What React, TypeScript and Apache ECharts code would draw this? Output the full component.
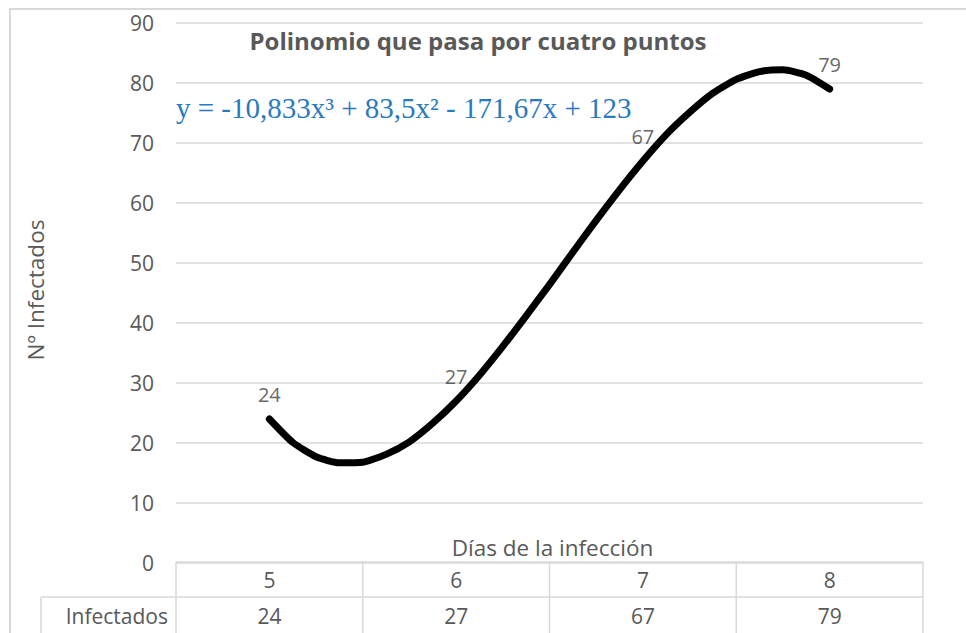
import React, { useEffect, useRef } from "react";
import * as echarts from "echarts";

const categories = ["5", "6", "7", "8"];
const infectados = [24, 27, 67, 79];
const seriesName = "Infectados";
// Trendline (day, value)
const trendDays = [
  5, 5.125, 5.25, 5.375, 5.5, 5.625, 5.75, 5.875, 6, 6.125, 6.25, 6.375, 6.5,
  6.625, 6.75, 6.875, 7, 7.125, 7.25, 7.375, 7.5, 7.625, 7.75, 7.875, 8,
];
const trendValues = [
  24, 20.1, 17.7, 16.7, 16.8, 18.1, 20.2, 23.3, 27, 31.3, 36.1, 41.2, 46.4,
  51.8, 57.1, 62.2, 67, 71.4, 75.1, 78.3, 80.6, 81.9, 82.2, 81.3, 79,
];
const yMin = 0;
const yMax = 90;
const yInterval = 10;
const titleText = "Polinomio que pasa por cuatro puntos";
const equationText = "y = -10,833x³ + 83,5x² - 171,67x + 123";
const xAxisTitle = "Días de la infección";
const yAxisTitle = "Nº Infectados";

const FONT = "'Open Sans', 'Noto Sans', sans-serif";
const GRID = { left: 176, top: 23, width: 747, height: 540 };

export default function App() {
  const ref = useRef<HTMLDivElement>(null);
  useEffect(() => {
    if (!ref.current) return;
    const chart = echarts.init(ref.current, null, { renderer: "svg" });
    const cellW = GRID.width / categories.length;
    const tableTop = GRID.top + GRID.height - 1;
    const rowH = 35;
    const border = "#d9d9d9";
    const textCol = "#595959";
    const graphics: any[] = [
      {
        type: "rect",
        shape: { x: 10, y: 9, width: 1200, height: 900 },
        style: { fill: "none", stroke: border, lineWidth: 2 },
        silent: true,
      },
      { type: "line", shape: { x1: GRID.left, y1: tableTop, x2: GRID.left + GRID.width, y2: tableTop }, style: { stroke: border, lineWidth: 1.5 } },
      { type: "line", shape: { x1: 41, y1: tableTop + rowH, x2: GRID.left + GRID.width, y2: tableTop + rowH }, style: { stroke: border, lineWidth: 1.5 } },
      { type: "line", shape: { x1: 41, y1: tableTop + rowH, x2: 41, y2: 700 }, style: { stroke: border, lineWidth: 1.5 } },
      {
        type: "text",
        x: 168,
        y: tableTop + rowH * 1.5 + 1,
        style: { text: seriesName, fill: textCol, font: `21px ${FONT}`, textAlign: "right", textVerticalAlign: "middle" },
      },
      {
        type: "text",
        x: GRID.left + GRID.width / 2 + 3,
        y: 547,
        style: { text: xAxisTitle, fill: textCol, font: `22.5px ${FONT}`, textAlign: "center", textVerticalAlign: "middle" },
      },
      {
        type: "text",
        x: 35,
        y: 290,
        rotation: Math.PI / 2,
        style: { text: yAxisTitle, fill: textCol, font: `22.5px ${FONT}`, textAlign: "center", textVerticalAlign: "middle" },
      },
      {
        type: "text",
        x: 478,
        y: 40,
        style: { text: titleText, fill: textCol, font: `bold 24px ${FONT}`, textAlign: "center", textVerticalAlign: "middle" },
      },
      {
        type: "text",
        x: 176,
        y: 108,
        style: { text: equationText, fill: "#2a7abf", font: `29px 'Liberation Serif', 'Times New Roman', serif`, textAlign: "left", textVerticalAlign: "middle" },
      },
    ];
    for (let i = 0; i <= categories.length; i++) {
      const x = GRID.left + i * cellW;
      graphics.push({ type: "line", shape: { x1: x, y1: tableTop, x2: x, y2: 700 }, style: { stroke: border, lineWidth: 1.5 } });
    }
    infectados.forEach((v, i) => {
      graphics.push({
        type: "text",
        x: GRID.left + (i + 0.5) * cellW,
        y: tableTop + rowH * 1.5 + 1,
        style: { text: String(v), fill: textCol, font: `21px ${FONT}`, textAlign: "center", textVerticalAlign: "middle" },
      });
    });

    chart.setOption({
      animation: false,
      backgroundColor: "#ffffff",
      grid: { ...GRID },
      xAxis: [
        {
          type: "category",
          data: categories,
          boundaryGap: true,
          axisLine: { show: false },
          axisTick: { show: false },
          axisLabel: { color: textCol, fontSize: 21, fontFamily: FONT, margin: 6 },
        },
        { type: "value", min: 4.5, max: 8.5, show: false },
      ],
      yAxis: {
        type: "value",
        min: yMin,
        max: yMax,
        interval: yInterval,
        axisLine: { show: false },
        axisTick: { show: false },
        axisLabel: { color: textCol, fontSize: 21, fontFamily: FONT, margin: 22 },
        splitLine: { lineStyle: { color: border, width: 1.5 } },
      },
      series: [
        {
          type: "line",
          xAxisIndex: 1,
          data: trendDays.map((d, i) => [d, trendValues[i]]),
          smooth: 0.2,
          symbol: "none",
          lineStyle: { color: "#000000", width: 7, cap: "round", join: "round" },
          silent: true,
        },
        {
          type: "scatter",
          name: seriesName,
          xAxisIndex: 0,
          data: infectados,
          symbolSize: 1,
          itemStyle: { color: "rgba(0,0,0,0)" },
          label: {
            show: true,
            position: "top",
            distance: 14,
            color: "#404040",
            fontSize: 20,
            fontFamily: FONT,
          },
        },
      ],
      graphic: graphics,
    });
    return () => chart.dispose();
  }, []);
  return (
    <div
      ref={ref}
      style={{ position: "fixed", left: 0, top: 0, width: 966, height: 633 }}
    />
  );
}
